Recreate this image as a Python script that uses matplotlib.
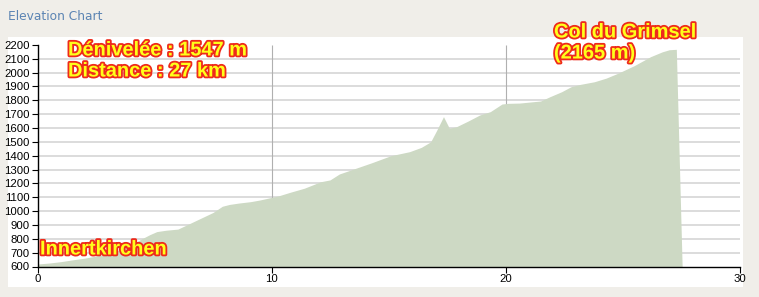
import matplotlib
matplotlib.use("Agg")
import matplotlib.pyplot as plt
import matplotlib.patheffects as pe
from matplotlib.patches import Rectangle

# Data (distance km, elevation m)
distance = [0, 0.5, 1, 1.5, 2, 2.5, 3, 3.5, 4, 4.4, 4.8, 5.1, 5.5, 6.0, 6.5, 7.0, 7.5, 7.9,
            8.2, 8.6, 9.1, 9.5, 9.9, 10.3, 10.8, 11.4, 12.1, 12.5, 12.9, 13.6, 14.3, 15.1,
            15.9, 16.4, 16.8, 17.05, 17.35, 17.6, 17.9, 18.4, 18.9, 19.35, 19.85, 20.1,
            20.6, 21.5, 21.9, 22.4, 22.8, 23.2, 23.8, 24.3, 24.8, 25.5, 26.2, 26.7,
            27.0, 27.3, 27.55]
elevation = [618, 625, 635, 648, 660, 675, 692, 720, 755, 795, 830, 852, 862, 870, 910, 950,
             990, 1035, 1048, 1058, 1068, 1080, 1095, 1110, 1136, 1165, 1212, 1225, 1268,
             1309, 1350, 1400, 1429, 1460, 1500, 1580, 1682, 1598, 1609, 1650, 1694, 1718,
             1773, 1778, 1780, 1795, 1826, 1862, 1898, 1915, 1934, 1960, 1995, 2050, 2115,
             2150, 2165, 2168, 590]

yticks = list(range(600, 2201, 100))
xticks = [0, 10, 20, 30]
grid_y = list(range(700, 2101, 100))
grid_x = [10, 20]

W, H = 759, 297
fig = plt.figure(figsize=(W / 100, H / 100), dpi=100)
fig.patch.set_facecolor("#f0eee9")

# white panel
fig.patches.append(Rectangle((8 / W, 1 - 287 / H), (743 - 8) / W, (287 - 37) / H,
                             transform=fig.transFigure, facecolor="white",
                             edgecolor="none", zorder=-5))

fig.text(8 / W, 1 - 17 / H, "Elevation Chart", color="#5b84b3", fontsize=8.8,
         family="DejaVu Sans", va="center", ha="left")

ax = fig.add_axes([37.5 / W, 30.5 / H, (739.5 - 37.5) / W, (266.5 - 44.9) / H])
ax.set_zorder(2)
ax.set_facecolor("none")
ax.set_xlim(0, 30)
ax.set_ylim(600, 2200)

ax.hlines(grid_y, 0, 30, colors="#d2d2d2", linewidth=1.1, zorder=1)
ax.vlines(grid_x, 600, 2200, colors="#b0b0b0", linewidth=0.8, zorder=1)
ax.fill_between(distance, elevation, 500, color="#cdd9c4", linewidth=0, zorder=2)

for s in ["top", "right"]:
    ax.spines[s].set_visible(False)
for s in ["left", "bottom"]:
    ax.spines[s].set_color("black")
    ax.spines[s].set_linewidth(1.0)
    ax.spines[s].set_zorder(3)

ax.set_yticks(yticks)
ax.set_xticks(xticks)
ax.tick_params(axis="both", direction="out", length=4, width=0.8, color="black",
               labelsize=8.2, pad=1.5)
for lab in ax.get_xticklabels() + ax.get_yticklabels():
    lab.set_family("Liberation Sans")

effects = [pe.withStroke(linewidth=2.6, foreground="#ee2a1b")]
tstyle = dict(fontsize=14.4, fontweight="bold", family="Liberation Sans",
              color="#ffff1a", path_effects=effects, va="center", ha="left")
fig.text(68 / W, 1 - 50 / H, "Dénivelée : 1547 m", **tstyle)
fig.text(68 / W, 1 - 71 / H, "Distance : 27 km", **tstyle)
fig.text(554 / W, 1 - 32 / H, "Col du Grimsel", **tstyle)
fig.text(554 / W, 1 - 53 / H, "(2165 m)", **tstyle)
fig.text(40 / W, 1 - 249 / H, "Innertkirchen", **tstyle)
for t in fig.texts:
    t.set_zorder(5)

fig.savefig("out.png", dpi=100, facecolor=fig.get_facecolor())
